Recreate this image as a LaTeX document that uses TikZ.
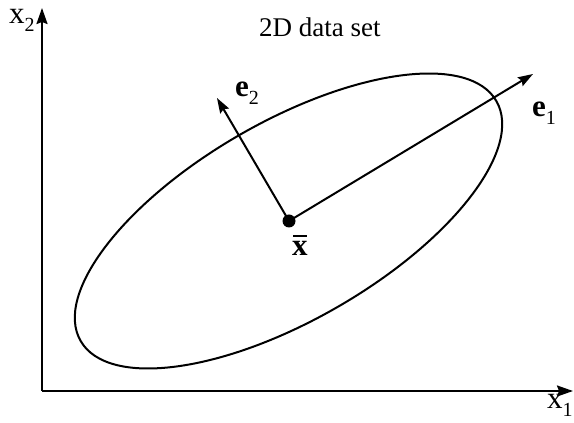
\documentclass[tikz,border=0pt]{standalone}
\usepackage{fontspec}
\setmainfont{Liberation Serif}
\usetikzlibrary{arrows.meta}
\newcommand{\mysub}[1]{\raisebox{-0.25em}{\fontsize{20}{20}\selectfont #1}}
\tikzset{
  axis/.style={line width=2pt, -{Stealth[length=16pt,width=11pt,inset=2pt]}},
  vec/.style={line width=2pt, -{Stealth[length=15pt,width=10pt,inset=2pt]}},
  lbl/.style={inner sep=0pt, font=\fontsize{31}{31}\selectfont},
  ttl/.style={inner sep=0pt, font=\fontsize{27}{27}\selectfont},
}
\begin{document}
\begin{tikzpicture}[x=1pt,y=1pt]
\useasboundingbox (0,0) rectangle (574,423);
\coordinate (O) at (42,32);
\coordinate (Ytip) at (42,415);
\coordinate (Xtip) at (573,32);
\coordinate (M) at (289,202);
\coordinate (E1) at (533,349);
\coordinate (E2) at (217,325);
\draw[axis] (O) -- (Ytip);
\draw[axis] (O) -- (Xtip);
\draw[line width=2pt] (288.5,202) ellipse [x radius=240, y radius=99, rotate=30];
\draw[vec] (M) -- (E1);
\draw[vec] (M) -- (E2);
\node[circle, fill=black, inner sep=0pt, minimum size=13pt] (mean) at (M) {};
\node[lbl, anchor=base west] (x2) at (9,399) {x\mysub{2}};
\node[lbl, anchor=base west] (x1) at (547,14) {x\mysub{1}};
\node[ttl, anchor=base west] (title) at (259,386) {2D data set};
\node[lbl, anchor=base west] (e1) at (532,306) {\textbf{e}\mysub{1}};
\node[lbl, anchor=base west] (e2) at (235,326) {\textbf{e}\mysub{2}};
\node[lbl, anchor=base west] (xb) at (292,167) {\textbf{x}};
\draw[line width=2pt] ([xshift=1pt,yshift=6pt]xb.north west) -- ([xshift=-1pt,yshift=6pt]xb.north east);
\end{tikzpicture}
\end{document}
